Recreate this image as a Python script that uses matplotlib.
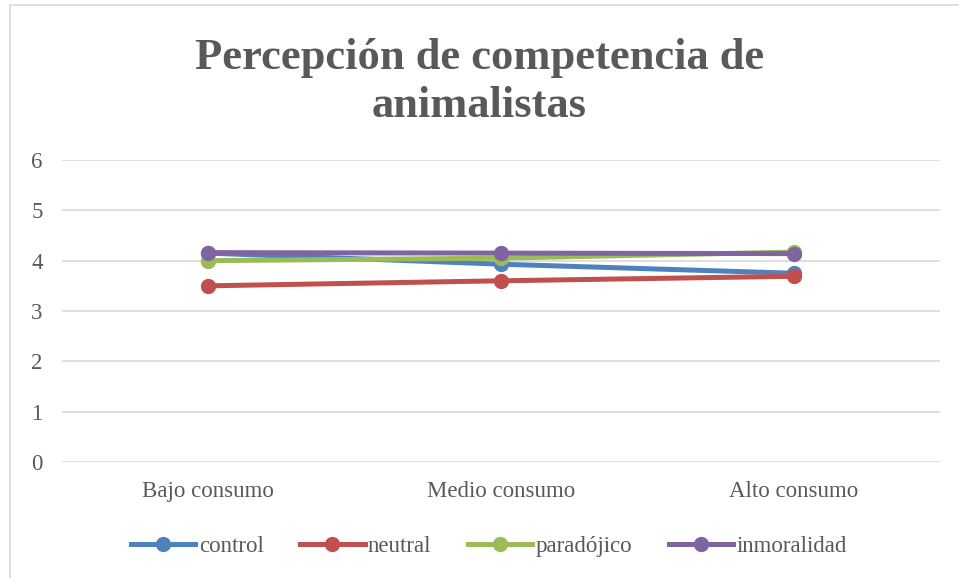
import matplotlib.pyplot as plt
from matplotlib.lines import Line2D

categories = ['Bajo consumo', 'Medio consumo', 'Alto consumo']
control = [4.15, 3.93, 3.75]
neutral = [3.50, 3.60, 3.69]
paradojico = [4.00, 4.05, 4.17]
inmoralidad = [4.16, 4.15, 4.14]

series = [
    ('control', control, '#4F81BD'),
    ('neutral', neutral, '#C0504D'),
    ('paradójico', paradojico, '#9BBB59'),
    ('inmoralidad', inmoralidad, '#8064A2'),
]

plt.rcParams['font.family'] = ['Liberation Serif', 'DejaVu Serif']

fig = plt.figure(figsize=(9.59, 5.78), dpi=100)
ax = fig.add_axes([62 / 959, 1 - 462 / 578, (940 - 62) / 959, (462 - 160) / 578])

x = range(len(categories))
for name, vals, color in series:
    ax.plot(x, vals, color=color, lw=3.6, marker='o', ms=10,
            solid_capstyle='round', label=name)

ax.set_xlim(-0.5, 2.5)
ax.set_ylim(0, 6)
ax.set_yticks(range(7))
ax.set_xticks(list(x))
ax.set_xticklabels(categories)
ax.grid(axis='y', color='#d9d9d9', lw=1.2)
ax.set_axisbelow(True)
for s in ax.spines.values():
    s.set_visible(False)
ax.tick_params(length=0, labelsize=16.5, colors='#595959')
ax.tick_params(axis='y', pad=14)
ax.tick_params(axis='x', pad=14)

fig.text(0.5, 1 - 82 / 578, 'Percepción de competencia de\nanimalistas', ha='center', va='center',
         fontsize=32, fontweight='bold', color='#595959', linespacing=1.25)

handles = [Line2D([0], [0], color=c, lw=3.6, marker='o', ms=10) for _, _, c in series]
fig.legend(handles, [n for n, _, _ in series], loc='center', bbox_to_anchor=(0.51, 1 - 546 / 578),
           ncol=4, frameon=False, fontsize=16.5, labelcolor='#595959',
           handlelength=2.8, handletextpad=0.15, columnspacing=1.6)

# chart border
fig.add_artist(Line2D([10 / 959, 10 / 959], [0, 1 - 5 / 578], color='#d9d9d9', lw=1.2))
fig.add_artist(Line2D([10 / 959, 1], [1 - 5 / 578, 1 - 5 / 578], color='#d9d9d9', lw=1.2))

fig.savefig('out.png', dpi=100)
